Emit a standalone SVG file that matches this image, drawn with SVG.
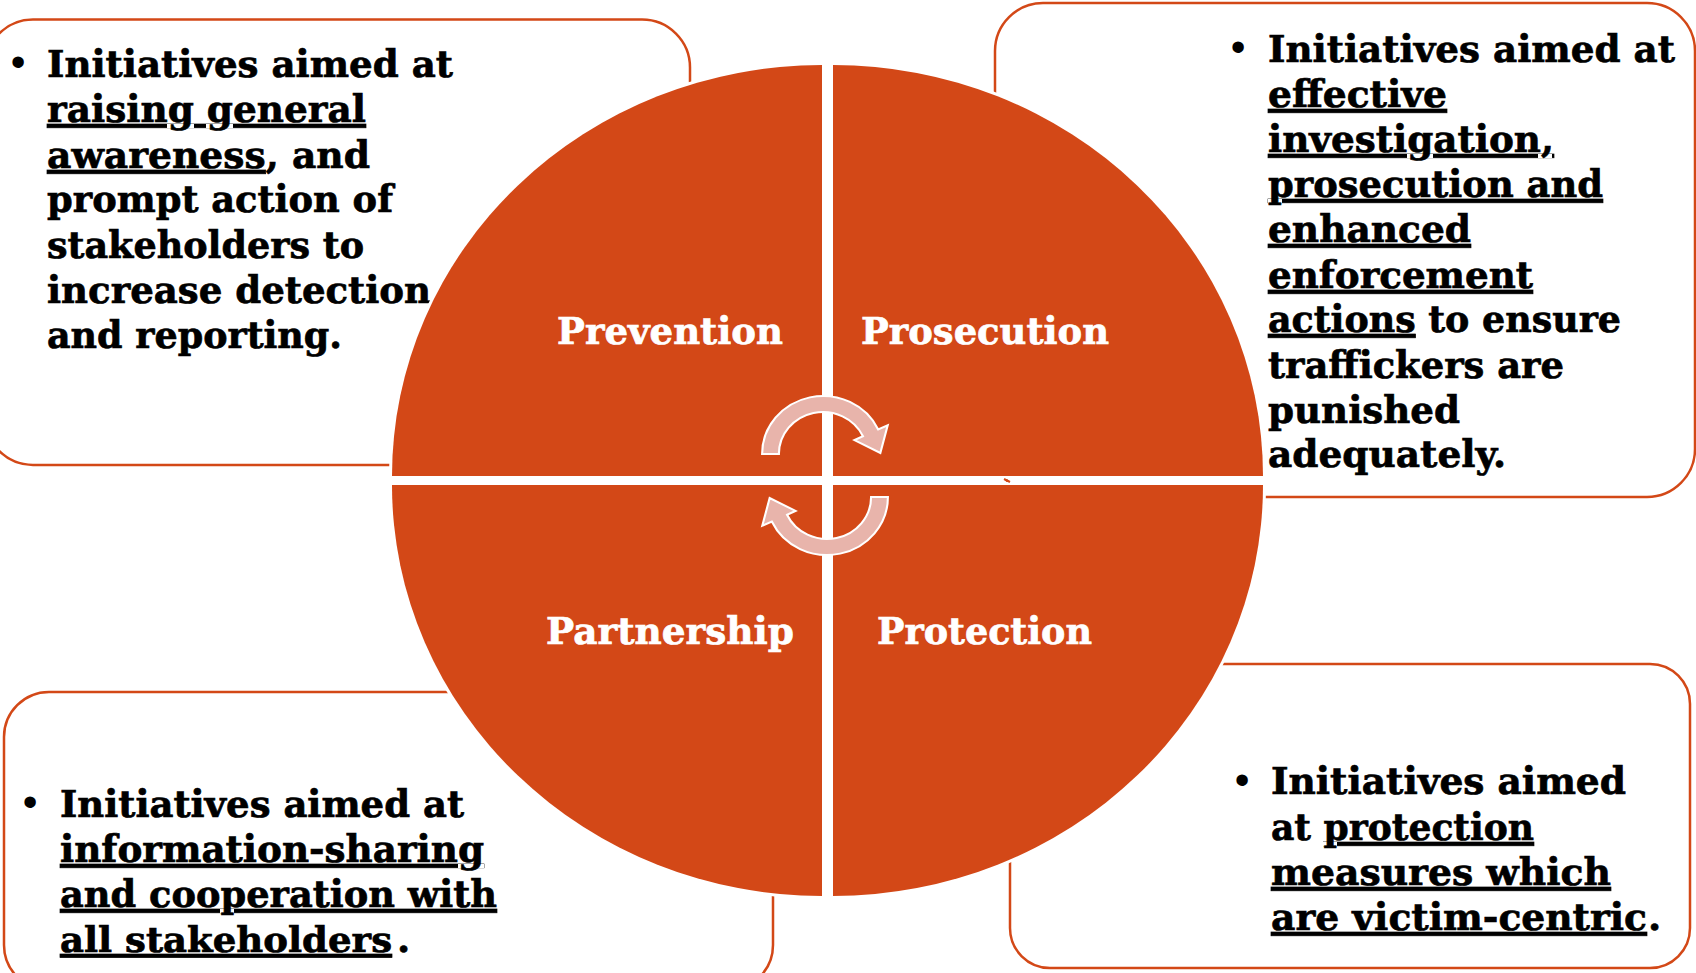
<svg xmlns="http://www.w3.org/2000/svg" width="1696" height="973" viewBox="0 0 1696 973">
  <defs>
    <style>
      .box { fill: #ffffff; stroke: #D34817; stroke-width: 2.5; }
      .quad { fill: #D34817; stroke: #ffffff; stroke-width: 6; paint-order: stroke; stroke-linejoin: miter; }
      .body { font-family: "DejaVu Serif", "Liberation Serif", serif; font-weight: bold; font-size: 38px; fill: #000000; stroke: #000000; stroke-width: 0.7; }
      .label { font-family: "DejaVu Serif", "Liberation Serif", serif; font-weight: bold; font-size: 38px; fill: #ffffff; stroke: #ffffff; stroke-width: 0.7; }
      .bullet { font-family: "Liberation Sans", Arial, sans-serif; font-size: 42px; fill: #000000; }
      .u { text-decoration: underline; text-decoration-thickness: 3px; }
      .arrow { fill: #E8B4AB; stroke: #ffffff; stroke-width: 2; stroke-linejoin: miter; }
    </style>
    <path id="cyc" d="M -58 0 A 58 58 0 0 1 52.57 -24.51 L 61.63 -28.74 L 54.6 -1 L 29.91 -13.95 L 38.06 -17.75 A 42 42 0 0 0 -42 0 Z"/>
  </defs>

  <rect width="1696" height="973" fill="#ffffff"/>

  <!-- Top-left box: Prevention description -->
  <g id="box-prevention">
    <rect class="box" x="-15" y="19.5" width="705" height="445.5" rx="48" ry="48"/>
    <text class="bullet" x="18" y="76" text-anchor="middle">•</text>
    <text class="body" x="47" y="77" textLength="406" lengthAdjust="spacingAndGlyphs">Initiatives aimed at</text>
    <text class="body" x="47" y="122" textLength="319" lengthAdjust="spacingAndGlyphs"><tspan class="u">raising general</tspan></text>
    <text class="body" x="47" y="168" textLength="323" lengthAdjust="spacingAndGlyphs"><tspan class="u">awareness</tspan>, and</text>
    <text class="body" x="47" y="212" textLength="346" lengthAdjust="spacingAndGlyphs">prompt action of</text>
    <text class="body" x="47" y="258" textLength="317" lengthAdjust="spacingAndGlyphs">stakeholders to</text>
    <text class="body" x="47" y="303" textLength="384" lengthAdjust="spacingAndGlyphs">increase detection</text>
    <text class="body" x="47" y="348" textLength="295" lengthAdjust="spacingAndGlyphs">and reporting.</text>
  </g>

  <!-- Top-right box: Prosecution description -->
  <g id="box-prosecution">
    <rect class="box" x="995" y="3" width="700" height="494" rx="48" ry="48"/>
    <text class="bullet" x="1238" y="61" text-anchor="middle">•</text>
    <text class="body" x="1268" y="62" textLength="407" lengthAdjust="spacingAndGlyphs">Initiatives aimed at</text>
    <text class="body" x="1268" y="107" textLength="179" lengthAdjust="spacingAndGlyphs"><tspan class="u">effective</tspan></text>
    <text class="body" x="1268" y="152" textLength="286" lengthAdjust="spacingAndGlyphs"><tspan class="u">investigation,</tspan></text>
    <text class="body" x="1268" y="197" textLength="335" lengthAdjust="spacingAndGlyphs"><tspan class="u">prosecution and</tspan></text>
    <text class="body" x="1268" y="242" textLength="203" lengthAdjust="spacingAndGlyphs"><tspan class="u">enhanced</tspan></text>
    <text class="body" x="1268" y="288" textLength="265" lengthAdjust="spacingAndGlyphs"><tspan class="u">enforcement</tspan></text>
    <text class="body" x="1268" y="332" textLength="353" lengthAdjust="spacingAndGlyphs"><tspan class="u">actions</tspan> to ensure</text>
    <text class="body" x="1268" y="378" textLength="296" lengthAdjust="spacingAndGlyphs">traffickers are</text>
    <text class="body" x="1268" y="423" textLength="192" lengthAdjust="spacingAndGlyphs">punished</text>
    <text class="body" x="1268" y="467" textLength="238" lengthAdjust="spacingAndGlyphs">adequately.</text>
  </g>

  <!-- Bottom-left box: Partnership description -->
  <g id="box-partnership">
    <rect class="box" x="4" y="692" width="769" height="298" rx="45" ry="45"/>
    <text class="bullet" x="30" y="816" text-anchor="middle">•</text>
    <text class="body" x="60" y="817" textLength="404" lengthAdjust="spacingAndGlyphs">Initiatives aimed at</text>
    <text class="body" x="60" y="862" textLength="424" lengthAdjust="spacingAndGlyphs"><tspan class="u">information-sharing</tspan></text>
    <text class="body" x="60" y="907" textLength="437" lengthAdjust="spacingAndGlyphs"><tspan class="u">and cooperation with</tspan></text>
    <text class="body" x="60" y="952" style="font-size:36px" textLength="332" lengthAdjust="spacingAndGlyphs"><tspan class="u">all stakeholders</tspan></text>
    <text class="body" x="397" y="952">.</text>
  </g>

  <!-- Bottom-right box: Protection description -->
  <g id="box-protection">
    <rect class="box" x="1010" y="664" width="680" height="304" rx="40" ry="40"/>
    <text class="bullet" x="1242" y="794" text-anchor="middle">•</text>
    <text class="body" x="1271" y="794" textLength="355" lengthAdjust="spacingAndGlyphs">Initiatives aimed</text>
    <text class="body" x="1271" y="840" textLength="263" lengthAdjust="spacingAndGlyphs">at <tspan class="u">protection</tspan></text>
    <text class="body" x="1271" y="885" textLength="340" lengthAdjust="spacingAndGlyphs"><tspan class="u">measures which</tspan></text>
    <text class="body" x="1271" y="930" textLength="376" lengthAdjust="spacingAndGlyphs"><tspan class="u">are victim-centric</tspan></text>
    <text class="body" x="1648" y="930">.</text>
  </g>

  <!-- Circle quadrants -->
  <g id="quad-prevention">
    <path class="quad" d="M 822 476 L 392 476 A 430 411 0 0 1 822 65 Z"/>
    <text class="label" x="557" y="344" textLength="226" lengthAdjust="spacingAndGlyphs">Prevention</text>
  </g>
  <g id="quad-prosecution">
    <path class="quad" d="M 833 476 L 833 65 A 430 411 0 0 1 1263 476 Z"/>
    <text class="label" x="861" y="344" textLength="248" lengthAdjust="spacingAndGlyphs">Prosecution</text>
  </g>
  <g id="quad-partnership">
    <path class="quad" d="M 822 485 L 822 896 A 430 411 0 0 1 392 485 Z"/>
    <text class="label" x="546" y="644" textLength="248" lengthAdjust="spacingAndGlyphs">Partnership</text>
  </g>
  <g id="quad-protection">
    <path class="quad" d="M 833 485 L 1263 485 A 430 411 0 0 1 833 896 Z"/>
    <text class="label" x="877" y="644" textLength="215" lengthAdjust="spacingAndGlyphs">Protection</text>
  </g>

  <!-- Cycle arrows -->
  <g id="connectors">
    <use href="#cyc" class="arrow" transform="translate(823,454) scale(1.05,1)"/>
    <use href="#cyc" class="arrow" transform="translate(827,497) rotate(180) scale(1.05,1)"/>
    <line x1="1004" y1="479" x2="1010" y2="482" stroke="#D34817" stroke-width="2"/>
  </g>
</svg>
